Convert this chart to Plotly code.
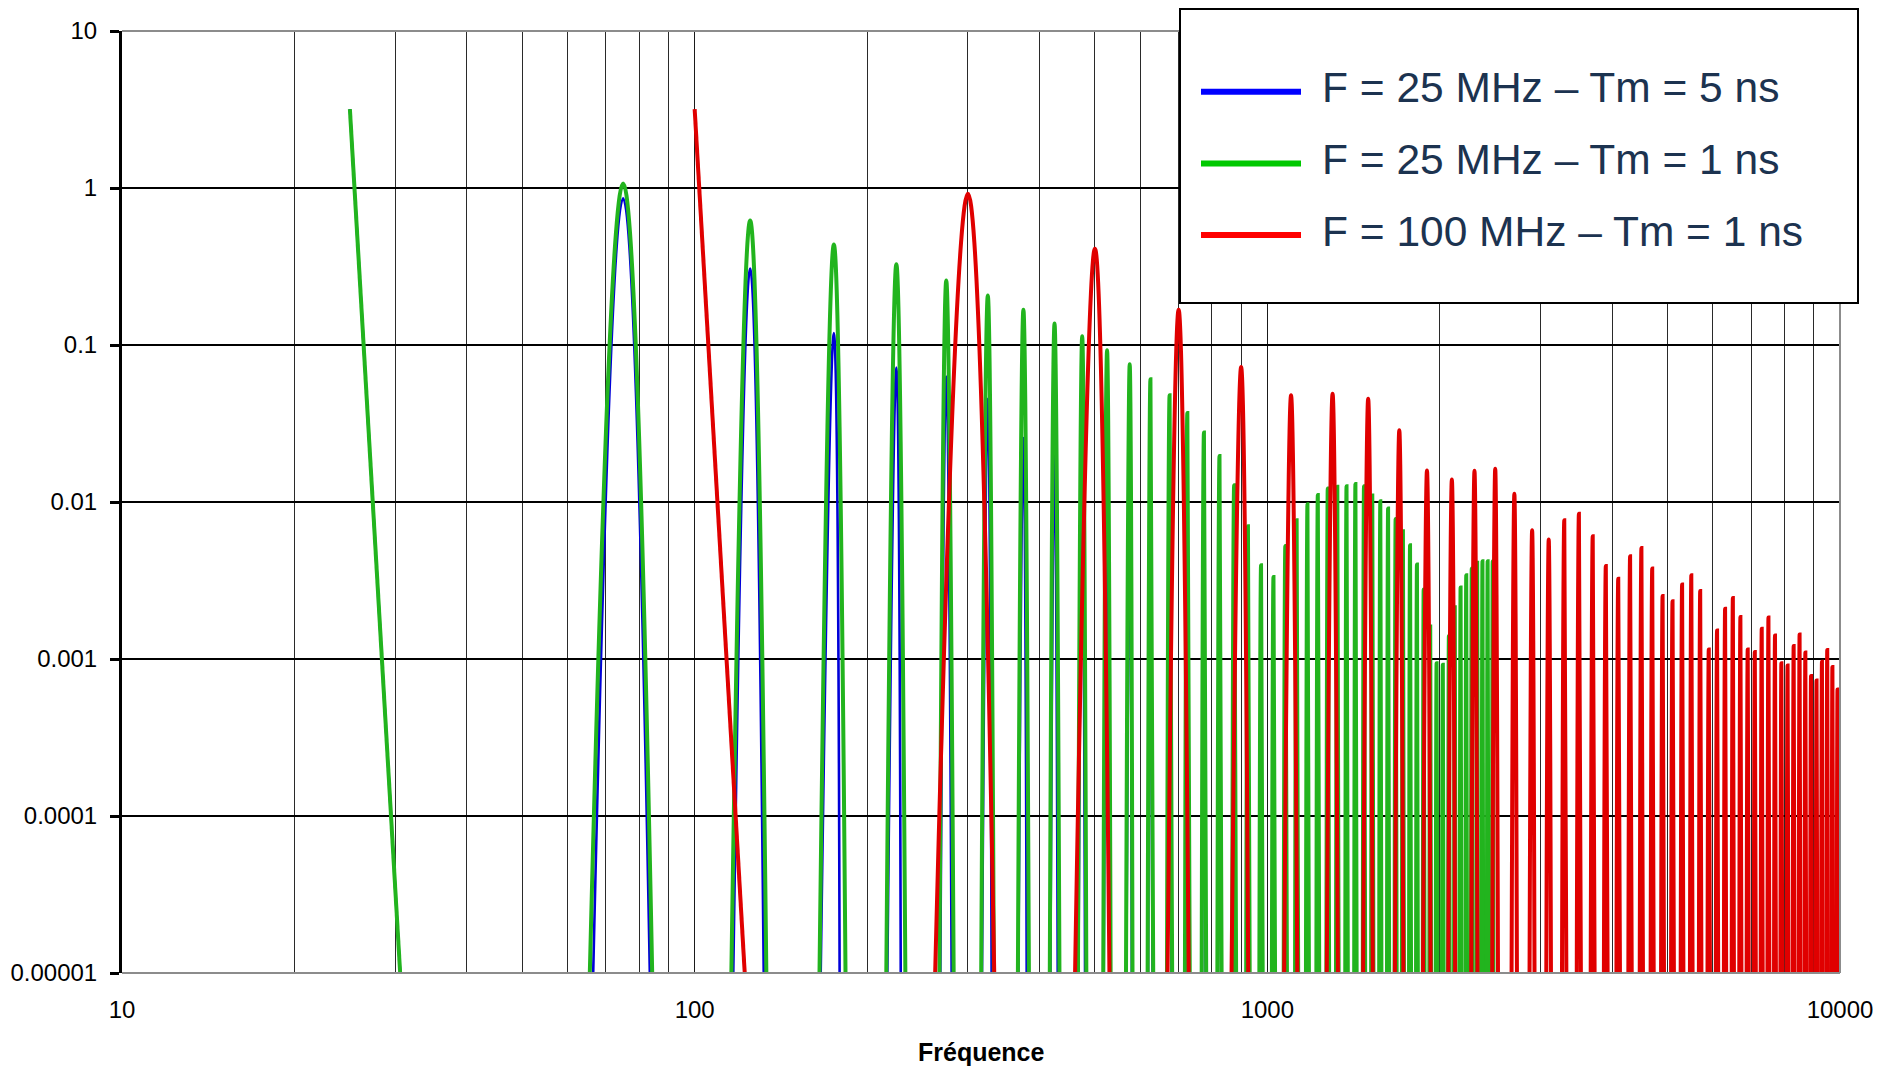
import plotly.graph_objects as go

# bottom of the chart: the lobes leave the plot through this value
FLOOR = 1e-5

# ---- F = 25 MHz - Tm = 5 ns (blue) ----
blue_f = [25, 75, 125, 175, 225, 275, 325, 375, 425, 475,
          525, 575, 625, 675, 725, 775, 825, 875, 925, 975,
          1025, 1075, 1125, 1175, 1225, 1275, 1325, 1375, 1425, 1475,
          1525, 1575, 1625, 1675, 1725, 1775, 1825, 1875, 1925, 1975,
          2025, 2075, 2125, 2175, 2225, 2275, 2325, 2375, 2425, 2475]
blue_peak = [3.18, 0.86, 0.307, 0.119, 0.0718, 0.063, 0.0455, 0.0255, 0.0203, 0.0155,
             0.0118, 0.009, 0.0068, 0.005, 0.0036, 0.0025, 0.0016, 0.00095, 0.00048, 0.00025,
             0.0002, 0.0003, 0.00042, 0.0005, 0.00055, 0.00058, 0.00058, 0.00056, 0.00055, 0.00051,
             0.00043, 0.00039, 0.00034, 0.00028, 0.00023, 0.00018, 0.00013, 0.00009, 0.00005, 0.00003,
             0.00003, 0.00004, 0.00006, 0.00008, 0.00009, 0.0001, 0.0001, 0.0001, 0.0001, 0.0001]
blue_lo = [None, 66.5, 116.8, 166, 217, 268.5, 317.5, 367.5, 418, 468,
           518, 567.5, 619, 669, 719, 769, 819, 869, 919.5, 969.5,
           1019.5, 1069, 1119, 1169, 1219, 1269, 1319, 1369, 1419, 1469,
           1519, 1569, 1619, 1669, 1719, 1769, 1819.5, 1869.5, 1919.5, 1970,
           2020, 2070, 2120, 2169.5, 2219.5, 2269.5, 2319.5, 2369.5, 2419.5, 2469.5]
blue_hi = [30.6, 83.5, 132, 179.1, 229, 281, 330, 380, 430.5, 480.5,
           530.5, 580, 630.5, 680.5, 730.5, 780.5, 830.5, 880.5, 930.5, 980.5,
           1030.5, 1081, 1131, 1181, 1231, 1281, 1331, 1381, 1431, 1481,
           1531, 1581, 1631, 1681, 1731, 1781, 1830.5, 1880.5, 1930.5, 1980,
           2030, 2080, 2130, 2180.5, 2230.5, 2280.5, 2330.5, 2380.5, 2430.5, 2480.5]

# ---- F = 25 MHz - Tm = 1 ns (green) ----
green_f = blue_f
green_peak = [3.18, 1.07, 0.62, 0.436, 0.327, 0.258, 0.207, 0.168, 0.137, 0.1136,
              0.0925, 0.0753, 0.0605, 0.0478, 0.0369, 0.0277, 0.0196, 0.0128, 0.007, 0.00395,
              0.00333, 0.00525, 0.00764, 0.00966, 0.0111, 0.0122, 0.0125, 0.0126, 0.013, 0.0126,
              0.011, 0.0101, 0.0091, 0.0078, 0.0065, 0.0053, 0.004, 0.00277, 0.00161, 0.00094,
              0.00092, 0.0014, 0.00214, 0.00285, 0.00341, 0.00377, 0.0041, 0.0042, 0.0042, 0.0042]
green_lo = [None, 65.6, 115.9, 165.2, 216.1, 267.6, 316.5, 366.8, 417, 467,
            517, 566.5, 618, 668, 718, 768, 818, 868, 918.5, 968.5,
            1018.5, 1068, 1118, 1168, 1218, 1268, 1318, 1368, 1418, 1468,
            1518, 1568, 1618, 1668, 1718, 1768, 1818.5, 1868.5, 1918.5, 1968.5,
            2018.5, 2068.5, 2118.5, 2168, 2218, 2268, 2318, 2368, 2418, 2468]
green_hi = [30.6, 84.3, 133.4, 183.4, 233.3, 283.3, 333, 383.4, 433.5, 483,
            532.5, 581.5, 632, 682, 732, 782, 832, 882, 931.5, 981.5,
            1031.5, 1082, 1132, 1182, 1232, 1282, 1332, 1382, 1432, 1482,
            1532, 1582, 1632, 1682, 1732, 1782, 1831.5, 1881.5, 1931.5, 1981.5,
            2031.5, 2081.5, 2131.5, 2182, 2232, 2282, 2332, 2382, 2432, 2482]

# ---- F = 100 MHz - Tm = 1 ns (red) ----
red_f = [100, 300, 500, 700, 900, 1100, 1300, 1500, 1700, 1900,
         2100, 2300, 2500, 2700, 2900, 3100, 3300, 3500, 3700, 3900,
         4100, 4300, 4500, 4700, 4900, 5100, 5300, 5500, 5700, 5900,
         6100, 6300, 6500, 6700, 6900, 7100, 7300, 7500, 7700, 7900,
         8100, 8300, 8500, 8700, 8900, 9100, 9300, 9500, 9700, 9900]
red_peak = [3.18, 0.92, 0.411, 0.168, 0.0724, 0.0478, 0.049, 0.0455, 0.0286, 0.0159,
            0.0139, 0.0158, 0.0163, 0.0113, 0.0066, 0.00576, 0.00764, 0.00843, 0.00605, 0.00391,
            0.00325, 0.00451, 0.00509, 0.00377, 0.00252, 0.00233, 0.00298, 0.00341, 0.00271, 0.00115,
            0.00152, 0.00209, 0.00245, 0.00185, 0.00115, 0.00111, 0.00156, 0.00184, 0.00141, 0.00094,
            0.00091, 0.00121, 0.00143, 0.0011, 0.00078, 0.00073, 0.00096, 0.00114, 0.00089, 0.00064]
red_lo = [None, 263, 461.6, 669.5, 866, 1070, 1270, 1470, 1670, 1870,
          2070, 2270, 2470, 2670, 2870, 3070, 3270, 3470, 3670, 3870,
          4070, 4270, 4470, 4670, 4870, 5070, 5270, 5470, 5670, 5870,
          6070, 6270, 6470, 6670, 6870, 7070, 7270, 7470, 7670, 7870,
          8070, 8270, 8470, 8670, 8870, 9070, 9270, 9470, 9670, 9870]
red_hi = [122.3, 333.5, 530, 729, 926, 1128, 1328, 1528, 1728, 1928,
          2128, 2328, 2528, 2728, 2928, 3128, 3328, 3528, 3728, 3928,
          4128, 4328, 4528, 4728, 4928, 5128, 5328, 5528, 5728, 5928,
          6128, 6328, 6528, 6728, 6928, 7128, 7328, 7528, 7728, 7928,
          8128, 8328, 8528, 8728, 8928, 9128, 9328, 9528, 9728, 9928]

legend_labels = ["F = 25 MHz \u2013 Tm = 5 ns",
                 "F = 25 MHz \u2013 Tm = 1 ns",
                 "F = 100 MHz \u2013 Tm = 1 ns"]

x_tickvals = [10, 100, 1000, 10000]
x_ticktext = ["10", "100", "1000", "10000"]
y_tickvals = [10, 1, 0.1, 0.01, 0.001, 0.0001, 0.00001]
y_ticktext = ["10", "1", "0.1", "0.01", "0.001", "0.0001", "0.00001"]

FONT = "Liberation Sans, Arial, sans-serif"


# one lobe per harmonic: foot -> peak -> foot, separated by gaps
def lobes(f, peak, lo, hi):
    x, y = [], []
    for fc, pk, a, b in zip(f, peak, lo, hi):
        if a is not None:
            x.append(a)
            y.append(FLOOR)
        x += [fc, b, None]
        y += [pk, FLOOR, None]
    return x, y


series = [
    (blue_f, blue_peak, blue_lo, blue_hi, "#0000D8", 2.6, "#0000FF"),
    (green_f, green_peak, green_lo, green_hi, "#22B41E", 4.0, "#00C800"),
    (red_f, red_peak, red_lo, red_hi, "#E00000", 4.0, "#FF0000"),
]

fig = go.Figure()
for (f, pk, lo, hi, color, width, _), name in zip(series, legend_labels):
    x, y = lobes(f, pk, lo, hi)
    fig.add_trace(
        go.Scatter(
            x=x,
            y=y,
            name=name,
            mode="lines",
            line=dict(color=color, width=width, shape="spline", smoothing=1.3),
            connectgaps=False,
            showlegend=False,
            hoverinfo="skip",
        )
    )

# the page body has an 8 px margin; all positions below are page pixels
PAGE_W, PAGE_H, BODY = 1881, 1067, 8
X0, X1, Y0, Y1 = 122, 1840, 31, 973      # plot area on the page
W, H = PAGE_W - BODY, PAGE_H - BODY
pw, ph = X1 - X0, Y1 - Y0


def px(xp):
    return (xp - X0) / pw


def py(yp):
    return (Y1 - yp) / ph


shapes = []
# grey plot border (top, right, bottom)
for x0, y0, x1, y1 in [(0, 1, 1, 1), (1, 0, 1, 1), (0, 0, 1, 0)]:
    shapes.append(dict(type="line", xref="paper", yref="paper", x0=x0, y0=y0, x1=x1, y1=y1,
                       line=dict(color="#8C8C8C", width=2), layer="above"))

# hand-made legend box
shapes.append(dict(type="rect", xref="paper", yref="paper",
                   x0=px(1180), x1=px(1858), y0=py(303), y1=py(9),
                   fillcolor="white", line=dict(color="black", width=2), layer="above"))
annotations = []
for i, (s, label) in enumerate(zip(series, legend_labels)):
    yl = 91.7 + i * 71.7
    shapes.append(dict(type="line", xref="paper", yref="paper",
                       x0=px(1201), x1=px(1301), y0=py(yl), y1=py(yl),
                       line=dict(color=s[6], width=6), layer="above"))
    annotations.append(dict(xref="paper", yref="paper", x=px(1320), y=py(yl - 4),
                            xanchor="left", yanchor="middle", showarrow=False,
                            text=label, font=dict(family=FONT, size=42.5, color="#1C3350")))

annotations.append(dict(xref="paper", yref="paper", x=0.5, y=py(1052),
                        xanchor="center", yanchor="middle", showarrow=False,
                        text="<b>Fréquence</b>", font=dict(family=FONT, size=25, color="black")))

minor_x = [m * 10 ** k for k in (1, 2, 3) for m in range(2, 10)]

fig.update_layout(
    width=W,
    height=H,
    margin=dict(l=X0 - BODY, r=W - (X1 - BODY), t=Y0 - BODY, b=H - (Y1 - BODY), autoexpand=False),
    paper_bgcolor="white",
    plot_bgcolor="white",
    font=dict(family=FONT, size=24, color="black"),
    shapes=shapes,
    annotations=annotations,
    showlegend=False,
)
fig.update_xaxes(
    type="log",
    range=[1, 4],
    automargin=False,
    tickvals=x_tickvals,
    ticktext=x_ticktext,
    ticks="",
    ticklabelstandoff=20,
    tickfont=dict(size=24, color="black"),
    showgrid=True,
    gridcolor="#1A1A1A",
    gridwidth=1,
    minor=dict(tickvals=minor_x, showgrid=True, gridcolor="#2A2A2A", gridwidth=1, ticks=""),
    showline=False,
    zeroline=False,
)
fig.update_yaxes(
    type="log",
    range=[-5, 1],
    automargin=False,
    tickvals=y_tickvals,
    ticktext=y_ticktext,
    ticks="outside",
    ticklen=9,
    tickwidth=3,
    tickcolor="black",
    ticklabelstandoff=8,
    tickfont=dict(size=24, color="black"),
    showgrid=True,
    gridcolor="black",
    gridwidth=1.6,
    showline=True,
    linecolor="black",
    linewidth=3,
    zeroline=False,
)

fig.write_html("out.html")
